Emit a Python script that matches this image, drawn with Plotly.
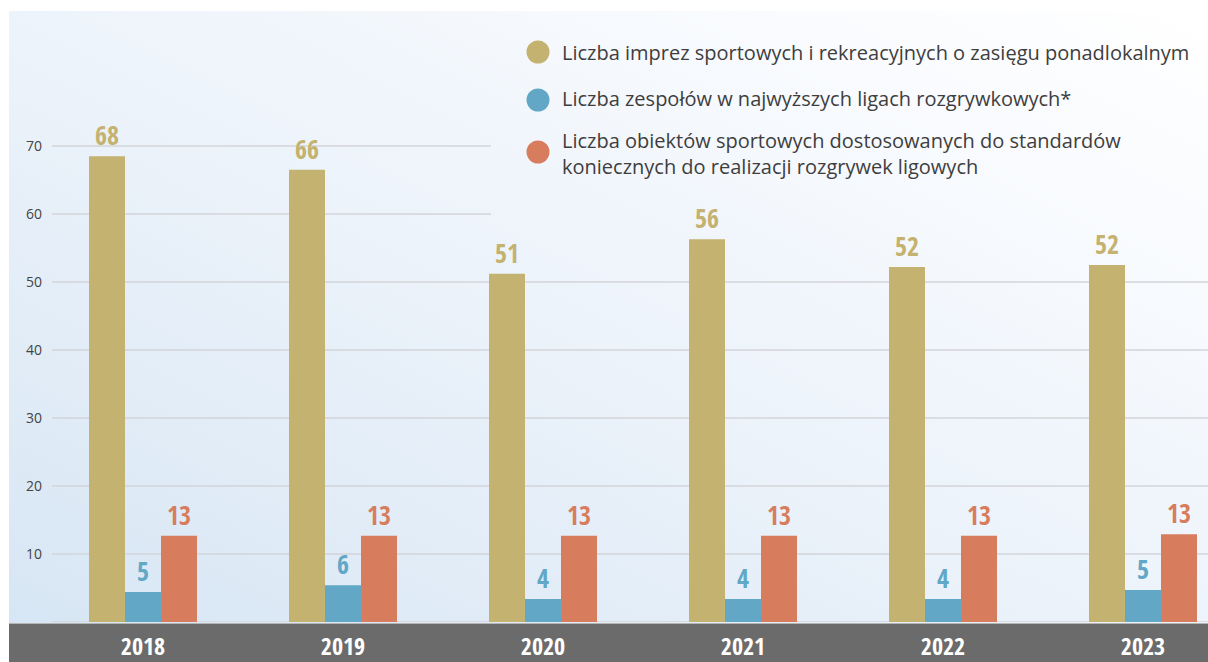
import base64
import plotly.graph_objects as go

# ---------------- data ----------------
years = ["2018", "2019", "2020", "2021", "2022", "2023"]
series_names = [
    "Liczba imprez sportowych i rekreacyjnych o zasięgu ponadlokalnym",
    "Liczba zespołów w najwyższych ligach rozgrywkowych*",
    "Liczba obiektów sportowych dostosowanych do standardów<br>koniecznych do realizacji rozgrywek ligowych",
]
events_h = [68.5, 66.5, 51.2, 56.3, 52.2, 52.5]
teams_h = [4.4, 5.4, 3.4, 3.4, 3.4, 4.7]
venues_h = [12.7, 12.7, 12.7, 12.7, 12.7, 12.9]
events_lbl = ["68", "66", "51", "56", "52", "52"]
teams_lbl = ["5", "6", "4", "4", "4", "5"]
venues_lbl = ["13", "13", "13", "13", "13", "13"]
y_ticks = [10, 20, 30, 40, 50, 60, 70]

colors = ["#c4b270", "#62a8c6", "#d77d5e"]

W, H = 1208, 662
L, R, T, B = 52, 0, 11, 40
PW = W - L - R
PH = H - T - B
YMAX = (H - B - T) / 6.8


def px_x(x):
    return (x - L) / PW


def px_y(y):
    return (H - B - y) / PH


num_font = "Open Sans Condensed, DejaVu Sans Condensed, sans-serif"
txt_font = "Open Sans, Noto Sans, sans-serif"

fig = go.Figure()
for h, lbl, c, n in zip([events_h, teams_h, venues_h],
                        [events_lbl, teams_lbl, venues_lbl], colors, series_names):
    fig.add_trace(go.Bar(
        x=years, y=h, name=n, marker=dict(color=c, line=dict(width=0)),
        text=lbl, textposition="outside", cliponaxis=False,
        textfont=dict(family=num_font, size=26, color=c, weight="bold"),
        showlegend=False, hoverinfo="skip",
    ))

svg = (
    '<svg xmlns="http://www.w3.org/2000/svg" width="1199" height="612" '
    'viewBox="0 0 1199 612" preserveAspectRatio="none">'
    '<defs><linearGradient id="g" x1="0" y1="1" x2="1" y2="0">'
    '<stop offset="0" stop-color="#d7e6f4"/>'
    '<stop offset="0.45" stop-color="#ebf2fa"/>'
    '<stop offset="0.8" stop-color="#f9fbfe"/>'
    '<stop offset="1" stop-color="#ffffff"/>'
    '</linearGradient></defs>'
    '<rect width="1199" height="612" fill="url(#g)"/></svg>'
)
src = "data:image/svg+xml;base64," + base64.b64encode(svg.encode()).decode()
fig.add_layout_image(dict(
    source=src, xref="paper", yref="paper",
    x=px_x(9), y=px_y(11), sizex=px_x(1208) - px_x(9), sizey=px_y(11) - px_y(623),
    xanchor="left", yanchor="top", sizing="stretch", layer="below",
))

shapes = []
for v in y_ticks + [0]:
    x1 = px_x(491) if v >= 60 else 1
    shapes.append(dict(type="line", xref="paper", yref="y", x0=0, x1=x1, y0=v, y1=v,
                       line=dict(color="#d3d5d8", width=1.3), layer="below"))
shapes.append(dict(type="rect", xref="paper", yref="paper",
                   x0=px_x(9), x1=1, y0=px_y(662), y1=px_y(623.5),
                   fillcolor="#6b6b6b", line=dict(width=0), layer="below"))

legend_rows = [52, 100, 152]
text_rows = [52, 99, 153]
annotations = []
for c, n, cy, ty in zip(colors, series_names, legend_rows, text_rows):
    r = 11.5
    shapes.append(dict(type="circle", xref="paper", yref="paper",
                       x0=px_x(538 - r), x1=px_x(538 + r), y0=px_y(cy + r), y1=px_y(cy - r),
                       fillcolor=c, line=dict(width=0)))
    annotations.append(dict(text=n, xref="paper", yref="paper", x=px_x(560), y=px_y(ty),
                            xanchor="left", yanchor="middle", align="left", showarrow=False,
                            font=dict(family=txt_font, size=20, color="#3e3e3e")))

fig.update_layout(
    width=W, height=H,
    margin=dict(l=L, r=R, t=T, b=B, pad=0, autoexpand=False),
    paper_bgcolor="white", plot_bgcolor="rgba(0,0,0,0)",
    barmode="group", bargap=0.46, bargroupgap=0,
    shapes=shapes, annotations=annotations,
    showlegend=False,
    xaxis=dict(type="category", range=[-0.455, 5.325], showgrid=False, zeroline=False,
               showline=False, ticks="", ticklabelstandoff=8, automargin=False,
               tickfont=dict(family=num_font, size=24, color="white", weight="bold")),
    yaxis=dict(range=[0, YMAX], tickvals=y_ticks, showgrid=False, zeroline=False,
               showline=False, ticks="", ticklabelstandoff=9, automargin=False,
               tickfont=dict(family=txt_font, size=14, color="#444444")),
)

post = (
    "document.documentElement.style.margin='0';"
    "document.documentElement.style.overflow='hidden';"
    "document.body.style.margin='0';"
    "document.body.style.overflow='hidden';"
    "window.scrollTo(0,0);"
)
fig.write_html("out.html", config={"displayModeBar": False}, post_script=post)
